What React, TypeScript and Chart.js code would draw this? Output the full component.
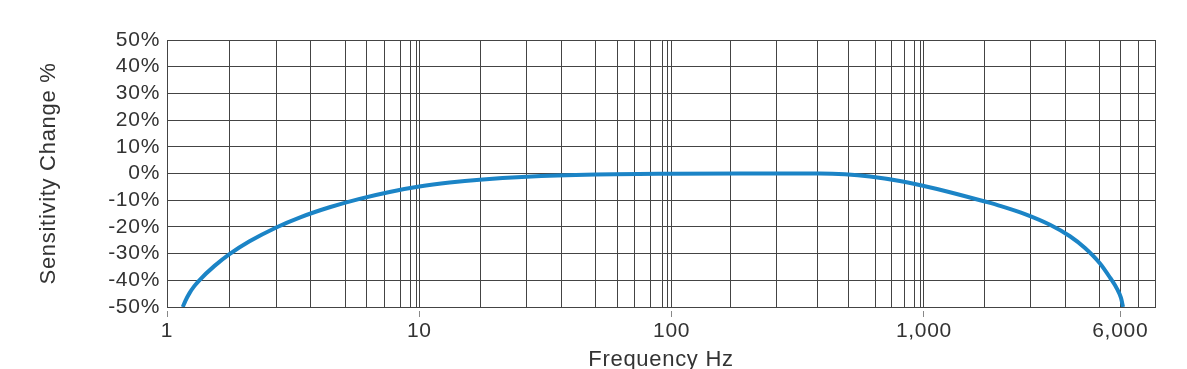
import React, { useEffect, useRef } from "react";
import { Chart, registerables } from "chart.js";

Chart.register(...registerables);

// Curve: frequency (Hz) and sensitivity change (%)
const FREQ_HZ = [1.155, 1.184, 1.228, 1.285, 1.346, 1.543, 1.769, 2.124, 2.71, 3.353, 4.41, 5.8, 7.63, 10, 13.19, 17.35, 26.65, 50, 100, 186.4, 386.8, 486, 611, 803, 1000, 1268, 1745, 2002, 2515, 3160, 3792, 4349, 4989, 5466, 5826, 6042, 6155];
const SENS_PCT = [-50, -47.6, -44.8, -42.1, -39.9, -34.6, -30.2, -25.4, -20.2, -16.5, -12.65, -9.5, -6.9, -4.9, -3.4, -2.3, -1.2, -0.4, -0.1, 0, 0, -0.28, -1.1, -2.8, -4.7, -7.0, -10.5, -12.1, -15.2, -19.2, -23.5, -27.9, -33.7, -39.0, -43.2, -46.6, -50];

// Vertical grid-line positions (Hz) as drawn in the reference
const X_GRID = [1, 1.769, 2.71, 3.718, 5.089, 6.199, 7.287, 8.387, 9.24, 9.732, 10, 17.46, 26.65, 36.58, 49.9, 61, 71, 82.46, 91.67, 95.95, 100, 171.2, 260.6, 377.6, 501, 642.1, 746.7, 835.5, 915.3, 970.3, 1000, 1745, 2657, 3647, 4957, 6000, 7102, 8240];
const X_MIN = 1;
const X_MAX = 8240;
const X_TICK_VALUES = [1, 10, 100, 1000, 6000];
const X_TICK_LABELS = ["1", "10", "100", "1,000", "6,000"];

const Y_MIN = -50;
const Y_MAX = 50;
const Y_STEP = 10;

const FONT = "'Liberation Sans', Arial, Helvetica, sans-serif";
const TEXT = "#333";
const GRID = "#444";
const LINE = "#1b84c6";

const spacingPlugin = {
  id: "letterSpacing",
  beforeDraw(chart: any) {
    chart.ctx.letterSpacing = "0.7px";
  },
};

export default function App() {
  const ref = useRef<HTMLCanvasElement>(null);

  useEffect(() => {
    const canvas = ref.current;
    if (!canvas) return;
    const labelFor = (v: number) => {
      const i = X_TICK_VALUES.findIndex((t) => Math.abs(t - v) < 1e-6 * t);
      return i >= 0 ? X_TICK_LABELS[i] : "";
    };
    const chart = new Chart(canvas, {
      type: "line",
      plugins: [spacingPlugin],
      data: {
        datasets: [
          {
            data: FREQ_HZ.map((f, i) => ({ x: f, y: SENS_PCT[i] })),
            borderColor: LINE,
            borderWidth: 4,
            pointRadius: 0,
            cubicInterpolationMode: "monotone",
            fill: false,
          },
        ],
      },
      options: {
        responsive: false,
        animation: false,
        events: [],
        layout: { padding: { top: 40, right: 32, left: 0, bottom: 0 } },
        plugins: { legend: { display: false }, tooltip: { enabled: false } },
        scales: {
          x: {
            type: "logarithmic",
            min: X_MIN,
            max: X_MAX,
            afterBuildTicks: (scale: any) => {
              scale.ticks = X_GRID.map((v) => ({ value: v }));
            },
            afterFit: (scale: any) => {
              scale.height = 62;
            },
            grid: {
              color: GRID,
              lineWidth: 1,
              drawTicks: true,
              tickLength: 10,
              tickWidth: 1,
              tickColor: (ctx: any) => (ctx.tick && labelFor(ctx.tick.value) ? "#888" : "rgba(0,0,0,0)"),
              tickBorderDash: [0, 3, 7, 100],
            },
            border: { color: GRID, width: 1 },
            ticks: {
              autoSkip: false,
              maxRotation: 0,
              minRotation: 0,
              padding: 2,
              color: TEXT,
              font: { family: FONT, size: 21 },
              callback: (v: any) => labelFor(Number(v)),
            },
            title: {
              display: true,
              text: "Frequency Hz",
              color: TEXT,
              font: { family: FONT, size: 22, lineHeight: 1 },
              padding: { top: 0, bottom: -2 },
            },
          },
          y: {
            type: "linear",
            min: Y_MIN,
            max: Y_MAX,
            afterFit: (scale: any) => {
              scale.width = 167;
            },
            grid: { color: GRID, lineWidth: 1, drawTicks: false, tickLength: 0 },
            border: { color: GRID, width: 1 },
            ticks: {
              autoSkip: false,
              stepSize: Y_STEP,
              padding: 7,
              color: TEXT,
              font: { family: FONT, size: 21 },
              callback: (v: any) => `${v}%`,
            },
            title: {
              display: true,
              text: "Sensitivity Change %",
              color: TEXT,
              font: { family: FONT, size: 22, lineHeight: 1.2 },
              padding: { top: 36, bottom: 0 },
            },
          },
        },
      },
    });
    return () => chart.destroy();
  }, []);

  return (
    <div style={{ position: "fixed", left: 0, top: 0, width: 1187, height: 369, background: "#fff" }}>
      <canvas ref={ref} width={1187} height={369} style={{ display: "block", width: 1187, height: 369 }} />
    </div>
  );
}
